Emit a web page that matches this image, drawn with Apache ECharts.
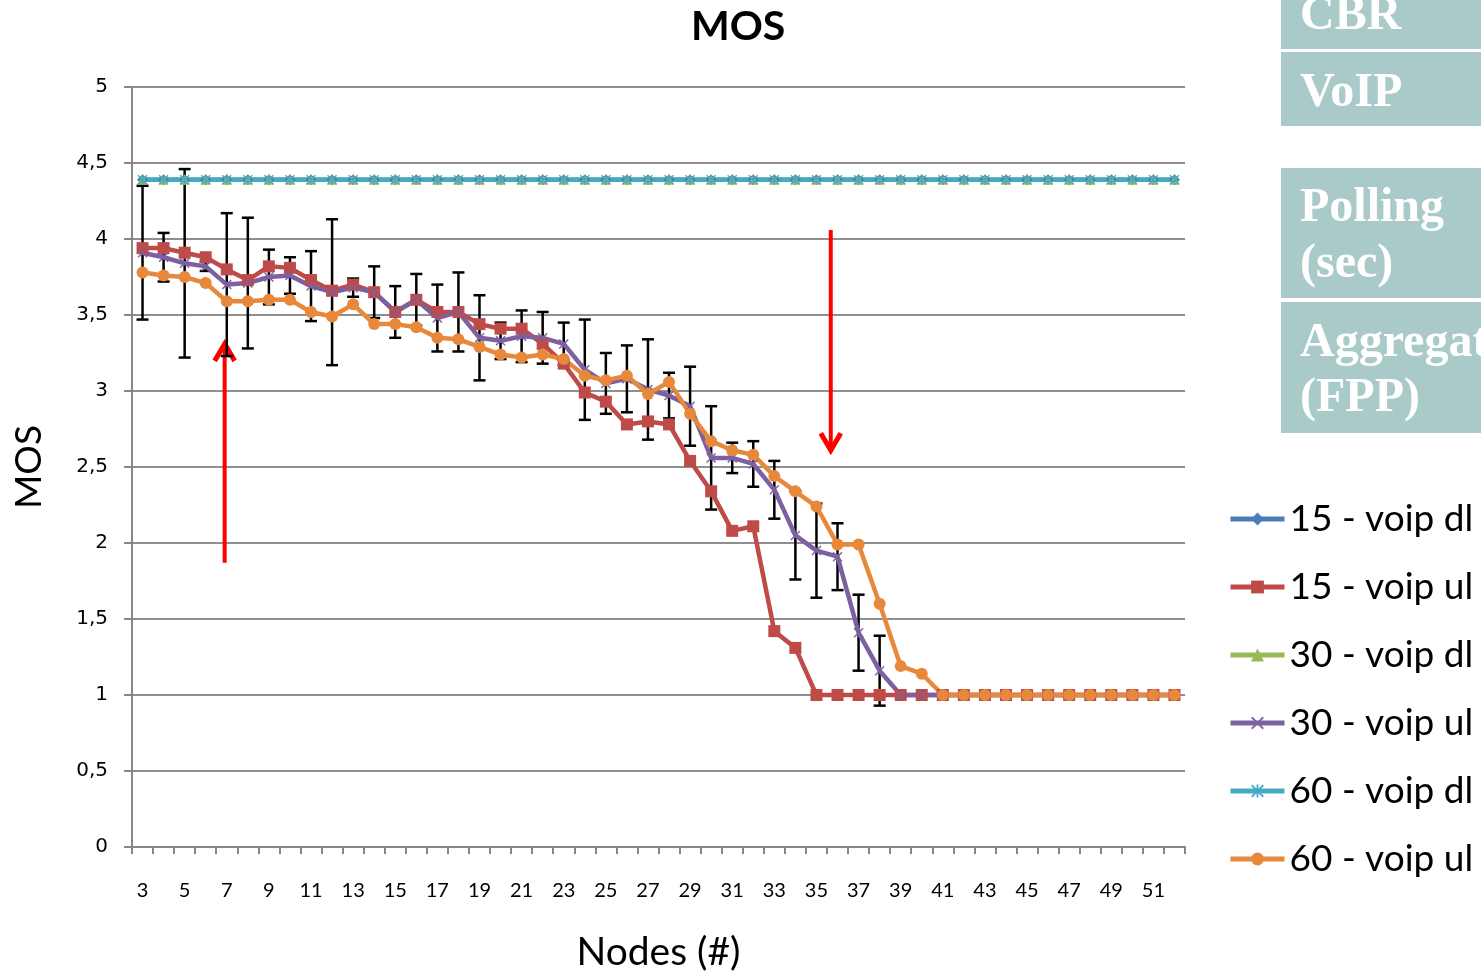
<!DOCTYPE html>
<html>
<head>
<meta charset="utf-8">
<script src="https://cdn.jsdelivr.net/npm/echarts@6/dist/echarts.min.js"></script>
<style>
  html, body { margin: 0; padding: 0; background: #fff; }
  #chart { width: 1481px; height: 977px; }
</style>
</head>
<body>
<div id="chart"></div>
<script>
// nodes on the x axis
var nodes = ['3','4','5','6','7','8','9','10','11','12','13','14','15','16','17','18','19','20',
  '21','22','23','24','25','26','27','28','29','30','31','32','33','34','35','36','37','38',
  '39','40','41','42','43','44','45','46','47','48','49','50','51','52'];

// downlink MOS (all three polling values sit on the same line)
var dl15 = [4.39,4.39,4.39,4.39,4.39,4.39,4.39,4.39,4.39,4.39,4.39,4.39,4.39,4.39,4.39,4.39,4.39,4.39,4.39,4.39,
  4.39,4.39,4.39,4.39,4.39,4.39,4.39,4.39,4.39,4.39,4.39,4.39,4.39,4.39,4.39,4.39,4.39,4.39,4.39,4.39,
  4.39,4.39,4.39,4.39,4.39,4.39,4.39,4.39,4.39,4.39];
var dl30 = [4.39,4.39,4.39,4.39,4.39,4.39,4.39,4.39,4.39,4.39,4.39,4.39,4.39,4.39,4.39,4.39,4.39,4.39,4.39,4.39,
  4.39,4.39,4.39,4.39,4.39,4.39,4.39,4.39,4.39,4.39,4.39,4.39,4.39,4.39,4.39,4.39,4.39,4.39,4.39,4.39,
  4.39,4.39,4.39,4.39,4.39,4.39,4.39,4.39,4.39,4.39];
var dl60 = [4.39,4.39,4.39,4.39,4.39,4.39,4.39,4.39,4.39,4.39,4.39,4.39,4.39,4.39,4.39,4.39,4.39,4.39,4.39,4.39,
  4.39,4.39,4.39,4.39,4.39,4.39,4.39,4.39,4.39,4.39,4.39,4.39,4.39,4.39,4.39,4.39,4.39,4.39,4.39,4.39,
  4.39,4.39,4.39,4.39,4.39,4.39,4.39,4.39,4.39,4.39];

// uplink MOS
var ul15 = [3.94,3.94,3.91,3.88,3.80,3.73,3.82,3.81,3.73,3.66,3.70,3.65,3.52,3.60,3.52,3.52,3.44,3.41,3.41,3.31,
  3.18,2.99,2.93,2.78,2.80,2.78,2.54,2.34,2.08,2.11,1.42,1.31,1.00,1.00,1.00,1.00,1.00,1.00,1.00,1.00,
  1.00,1.00,1.00,1.00,1.00,1.00,1.00,1.00,1.00,1.00];
var ul30 = [3.91,3.88,3.84,3.82,3.70,3.71,3.75,3.76,3.69,3.65,3.68,3.65,3.52,3.60,3.48,3.52,3.35,3.33,3.36,3.35,
  3.31,3.14,3.05,3.08,3.01,2.97,2.90,2.56,2.56,2.52,2.35,2.05,1.95,1.91,1.41,1.16,1.00,1.00,1.00,1.00,
  1.00,1.00,1.00,1.00,1.00,1.00,1.00,1.00,1.00,1.00];
var ul60 = [3.78,3.76,3.75,3.71,3.59,3.59,3.60,3.60,3.52,3.49,3.57,3.44,3.44,3.42,3.35,3.34,3.29,3.24,3.22,3.24,
  3.21,3.10,3.07,3.10,2.98,3.06,2.85,2.67,2.61,2.58,2.44,2.34,2.24,1.99,1.99,1.60,1.19,1.14,1.00,1.00,
  1.00,1.00,1.00,1.00,1.00,1.00,1.00,1.00,1.00,1.00];

// error bar half-widths on the 30 - voip ul series
var err30 = [0.44,0.16,0.62,0.03,0.47,0.43,0.18,0.12,0.23,0.48,0.06,0.17,0.17,0.17,0.22,0.26,0.28,0.12,0.17,0.17,
  0.14,0.33,0.20,0.22,0.33,0.15,0.26,0.34,0.10,0.15,0.19,0.29,0.31,0.22,0.25,0.23,0,0,0,0,
  0,0,0,0,0,0,0,0,0,0];

// red annotation arrows: category position, tail value, tip value
var arrowUp = { pos: 3.9, from: 1.87, to: 3.31 };
var arrowDown = { pos: 32.68, from: 4.06, to: 2.61 };

var colors = ['#4A7EBB', '#BE4B48', '#98B954', '#7D60A0', '#46AAC5', '#E7883A'];
var xMark = 'path://M0,1L1,0L5,4L9,0L10,1L6,5L10,9L9,10L5,6L1,10L0,9L4,5Z';
var starMark = 'path://M0,1L1,0L5,4L9,0L10,1L6,5L10,9L9,10L5,6L1,10L0,9L4,5Z M4.3,0H5.7V10H4.3Z';

var chart = echarts.init(document.getElementById('chart'));

function lineSeries(name, data, idx, symbol, size) {
  return {
    name: name,
    type: 'line',
    data: data,
    symbol: symbol,
    symbolSize: size,
    showSymbol: true,
    lineStyle: { width: 4.5, color: colors[idx] },
    itemStyle: { color: colors[idx] },
    emphasis: { disabled: true },
    animation: false
  };
}

var errData = ul30.map(function (v, i) { return [i, v - err30[i], v + err30[i], err30[i]]; });

var option = {
  animation: false,
  backgroundColor: '#fff',
  title: {
    text: 'MOS',
    left: 686,
    top: 1,
    textStyle: { fontSize: 41, fontWeight: 'bold', color: '#000', fontFamily: 'Lato' }
  },
  legend: {
    orient: 'vertical',
    left: 1223,
    top: 493,
    itemWidth: 54,
    itemHeight: 16,
    itemGap: 26,
    lineStyle: { width: 5 },
    textStyle: { fontSize: 37, color: '#000', fontFamily: 'Lato', lineHeight: 42 },
    data: ['15 - voip dl', '15 - voip ul', '30 - voip dl', '30 - voip ul', '60 - voip dl', '60 - voip ul']
  },
  grid: { left: 132, right: 296, top: 87, bottom: 120 },
  xAxis: {
    type: 'category',
    data: nodes,
    boundaryGap: true,
    name: 'Nodes (#)',
    nameLocation: 'middle',
    nameGap: 86,
    nameTextStyle: { fontSize: 39, color: '#000', fontFamily: 'Lato' },
    axisLine: { lineStyle: { color: '#878787', width: 2 } },
    axisTick: { show: true, interval: 0, length: 7, lineStyle: { color: '#878787', width: 2 } },
    axisLabel: { interval: 1, fontSize: 20, margin: 34, color: '#000', fontFamily: 'Lato' },
    splitLine: { show: false }
  },
  yAxis: {
    type: 'value',
    min: 0,
    max: 5,
    interval: 0.5,
    name: 'MOS',
    nameLocation: 'middle',
    nameGap: 84,
    nameRotate: 90,
    nameTextStyle: { fontSize: 37, color: '#000', fontFamily: 'Lato' },
    axisLine: { show: true, lineStyle: { color: '#878787', width: 2 } },
    axisTick: { show: true, length: 8, lineStyle: { color: '#878787', width: 2 } },
    axisLabel: {
      fontSize: 20, margin: 24, color: '#000', fontFamily: 'DejaVu Sans',
      formatter: function (v) { return String(v).replace('.', ','); }
    },
    splitLine: { lineStyle: { color: '#8f8f8f', width: 2 } }
  },
  series: [
    lineSeries('15 - voip dl', dl15, 0, 'diamond', 11),
    lineSeries('15 - voip ul', ul15, 1, 'rect', 12),
    lineSeries('30 - voip dl', dl30, 2, 'triangle', 10),
    lineSeries('30 - voip ul', ul30, 3, xMark, 10),
    {
      name: 'err30',
      type: 'custom',
      data: errData,
      silent: true,
      animation: false,
      renderItem: function (params, api) {
        if (api.value(3) <= 0) return;
        var lo = api.coord([api.value(0), api.value(1)]);
        var hi = api.coord([api.value(0), api.value(2)]);
        var cap = 6;
        var st = { stroke: '#000', lineWidth: 2.5 };
        return {
          type: 'group',
          children: [
            { type: 'line', shape: { x1: lo[0], y1: lo[1], x2: hi[0], y2: hi[1] }, style: st },
            { type: 'line', shape: { x1: lo[0] - cap, y1: lo[1], x2: lo[0] + cap, y2: lo[1] }, style: st },
            { type: 'line', shape: { x1: hi[0] - cap, y1: hi[1], x2: hi[0] + cap, y2: hi[1] }, style: st }
          ]
        };
      }
    },
    lineSeries('60 - voip dl', dl60, 4, starMark, 10),
    lineSeries('60 - voip ul', ul60, 5, 'circle', 12)
  ]
};

chart.setOption(option);

// annotation arrows placed through the chart's own scales
function catPixel(pos, val) {
  var i0 = Math.floor(pos), f = pos - i0;
  var a = chart.convertToPixel({ gridIndex: 0 }, [i0, val]);
  var b = chart.convertToPixel({ gridIndex: 0 }, [i0 + 1, val]);
  return [a[0] + (b[0] - a[0]) * f, a[1]];
}
function arrow(a) {
  var tail = catPixel(a.pos, a.from);
  var tip = catPixel(a.pos, a.to);
  var dir = tip[1] < tail[1] ? 1 : -1; // 1 means pointing up
  var st = { stroke: '#ff0000', lineWidth: 4, lineCap: 'butt' };
  return {
    type: 'group',
    children: [
      { type: 'line', shape: { x1: tail[0], y1: tail[1], x2: tip[0], y2: tip[1] }, style: st },
      { type: 'polyline', shape: { points: [[tip[0] - 10, tip[1] + dir * 17], [tip[0], tip[1]], [tip[0] + 10, tip[1] + dir * 17]] },
        style: { stroke: '#ff0000', lineWidth: 5, fill: null, lineJoin: 'miter' } }
    ]
  };
}

var boxColor = '#AACACA';
var boxFont = 'bold 48px "Liberation Serif"';
function boxText(t, y) {
  return { type: 'text', x: 1300, y: y, style: { text: t, font: boxFont, fill: '#fff', textVerticalAlign: 'bottom' } };
}
chart.setOption({
  graphic: [
    arrow(arrowUp),
    arrow(arrowDown),
    { type: 'rect', shape: { x: 1281, y: 0, width: 200, height: 49 }, style: { fill: boxColor } },
    { type: 'rect', shape: { x: 1281, y: 52, width: 200, height: 74 }, style: { fill: boxColor } },
    { type: 'rect', shape: { x: 1281, y: 168, width: 200, height: 130 }, style: { fill: boxColor } },
    { type: 'rect', shape: { x: 1281, y: 302, width: 200, height: 131 }, style: { fill: boxColor } },
    boxText('CBR', 41),
    boxText('VoIP', 118),
    boxText('Polling', 233),
    boxText('(sec)', 289),
    boxText('Aggregation', 368),
    boxText('(FPP)', 423)
  ]
});
</script>
</body>
</html>
